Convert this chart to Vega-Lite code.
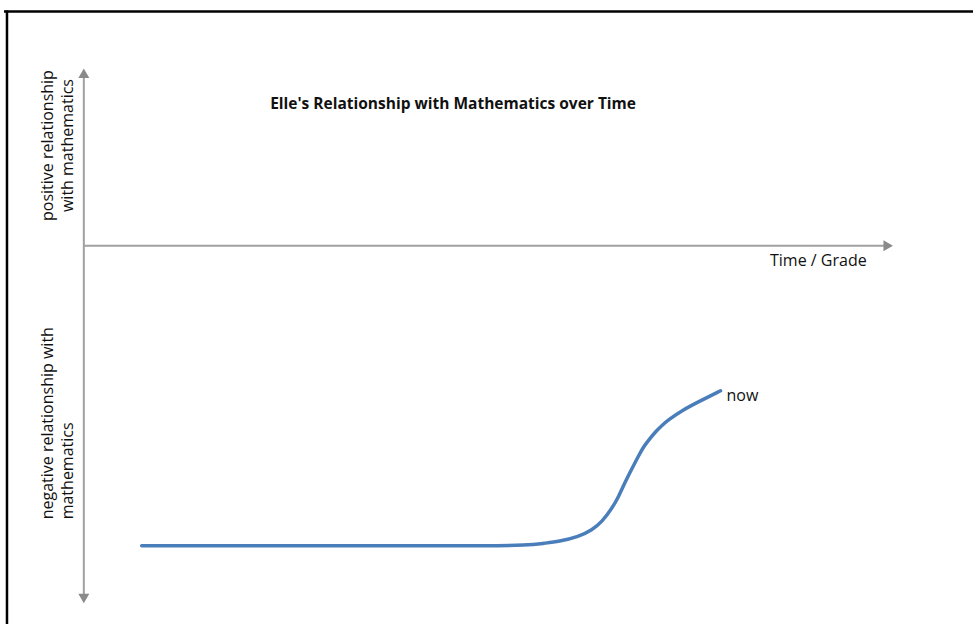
{
  "$schema": "https://vega.github.io/schema/vega-lite/v6.json",
  "width": 975,
  "height": 626,
  "padding": 0,
  "autosize": {"type": "fit", "contains": "padding"},
  "background": "white",
  "config": {"view": {"stroke": null}},
  "datasets": {
    "curve": [
      {"grade": 5.8, "relation": -30.1},
      {"grade": 21.6, "relation": -30.1},
      {"grade": 35.6, "relation": -30.1},
      {"grade": 39.6, "relation": -30.12},
      {"grade": 44.6, "relation": -30.05},
      {"grade": 46.1, "relation": -29.85},
      {"grade": 47.6, "relation": -29.68},
      {"grade": 49.6, "relation": -29.18},
      {"grade": 50.93, "relation": -28.52},
      {"grade": 51.93, "relation": -27.68},
      {"grade": 52.93, "relation": -26.35},
      {"grade": 53.6, "relation": -25.15},
      {"grade": 54.27, "relation": -23.65},
      {"grade": 54.93, "relation": -22.35},
      {"grade": 55.6, "relation": -21.05},
      {"grade": 56.1, "relation": -20.15},
      {"grade": 56.6, "relation": -19.5},
      {"grade": 57.27, "relation": -18.68},
      {"grade": 57.9, "relation": -18.05},
      {"grade": 58.6, "relation": -17.45},
      {"grade": 59.9, "relation": -16.55},
      {"grade": 61.6, "relation": -15.65},
      {"grade": 63.8, "relation": -14.55}
    ],
    "axesV": [{"x": 0, "y": 17.0, "y2": -35.1}],
    "axesH": [{"x": 0, "x2": 80.3, "y": 0}],
    "heads": [
      {"x": 0, "y": 17.3, "shape": "triangle-up"},
      {"x": 0, "y": -35.4, "shape": "triangle-down"},
      {"x": 80.6, "y": 0, "shape": "triangle-right"}
    ],
    "frameTop": [{"x": -8.0, "x2": 89.1, "y": 23.5}],
    "frameLeft": [{"x": -7.7, "y": 23.6, "y2": -37.95}],
    "title": [{"x": 37, "y": 14.25, "label": "Elle's Relationship with Mathematics over Time"}],
    "xlabel": [{"x": 73.6, "y": -1.55, "label": "Time / Grade"}],
    "now": [{"x": 64.4, "y": -15.05, "label": "now"}],
    "pos": [{"x": -3.6, "y": 10.05, "label": ["positive relationship", "with mathematics"]}],
    "neg": [{"x": -3.6, "y": -27.45, "label": ["negative relationship with", "mathematics"]}]
  },
  "layer": [
    {
      "data": {"name": "frameTop"},
      "mark": {"type": "rule", "color": "black", "strokeWidth": 2.5},
      "encoding": {
        "x": {"field": "x", "type": "quantitative", "scale": {"domain": [-8.4, 89.1], "nice": false, "zero": false}, "axis": null},
        "x2": {"field": "x2"},
        "y": {"field": "y", "type": "quantitative", "scale": {"domain": [-37.95, 24.65], "nice": false, "zero": false}, "axis": null}
      }
    },
    {
      "data": {"name": "frameLeft"},
      "mark": {"type": "rule", "color": "black", "strokeWidth": 2.5},
      "encoding": {
        "x": {"field": "x", "type": "quantitative"},
        "y": {"field": "y", "type": "quantitative"},
        "y2": {"field": "y2"}
      }
    },
    {
      "data": {"name": "axesV"},
      "mark": {"type": "rule", "color": "#a0a0a0", "strokeWidth": 2},
      "encoding": {
        "x": {"field": "x", "type": "quantitative"},
        "y": {"field": "y", "type": "quantitative"},
        "y2": {"field": "y2"}
      }
    },
    {
      "data": {"name": "axesH"},
      "mark": {"type": "rule", "color": "#a0a0a0", "strokeWidth": 2},
      "encoding": {
        "x": {"field": "x", "type": "quantitative"},
        "x2": {"field": "x2"},
        "y": {"field": "y", "type": "quantitative"}
      }
    },
    {
      "data": {"name": "heads"},
      "mark": {"type": "point", "filled": true, "color": "#8a8a8a", "size": 120, "opacity": 1},
      "encoding": {
        "x": {"field": "x", "type": "quantitative"},
        "y": {"field": "y", "type": "quantitative"},
        "shape": {"field": "shape", "type": "nominal", "scale": null, "legend": null}
      }
    },
    {
      "data": {"name": "curve"},
      "mark": {"type": "line", "color": "#4a7ebb", "strokeWidth": 3.5, "strokeCap": "round", "interpolate": "basis"},
      "encoding": {
        "x": {"field": "grade", "type": "quantitative"},
        "y": {"field": "relation", "type": "quantitative"}
      }
    },
    {
      "data": {"name": "title"},
      "mark": {"type": "text", "font": "Open Sans", "fontSize": 15.5, "fontWeight": "bold", "align": "center", "baseline": "middle", "color": "#111"},
      "encoding": {
        "x": {"field": "x", "type": "quantitative"},
        "y": {"field": "y", "type": "quantitative"},
        "text": {"field": "label"}
      }
    },
    {
      "data": {"name": "xlabel"},
      "mark": {"type": "text", "font": "Open Sans", "fontSize": 16, "align": "center", "baseline": "middle", "color": "#111"},
      "encoding": {
        "x": {"field": "x", "type": "quantitative"},
        "y": {"field": "y", "type": "quantitative"},
        "text": {"field": "label"}
      }
    },
    {
      "data": {"name": "now"},
      "mark": {"type": "text", "font": "Open Sans", "fontSize": 16, "align": "left", "baseline": "middle", "color": "#111"},
      "encoding": {
        "x": {"field": "x", "type": "quantitative"},
        "y": {"field": "y", "type": "quantitative"},
        "text": {"field": "label"}
      }
    },
    {
      "data": {"name": "pos"},
      "mark": {"type": "text", "font": "Open Sans", "fontSize": 16, "align": "center", "baseline": "middle", "angle": 270, "lineHeight": 20, "color": "#111"},
      "encoding": {
        "x": {"field": "x", "type": "quantitative"},
        "y": {"field": "y", "type": "quantitative"},
        "text": {"field": "label"}
      }
    },
    {
      "data": {"name": "neg"},
      "mark": {"type": "text", "font": "Open Sans", "fontSize": 16, "align": "left", "baseline": "middle", "angle": 270, "lineHeight": 20, "color": "#111"},
      "encoding": {
        "x": {"field": "x", "type": "quantitative"},
        "y": {"field": "y", "type": "quantitative"},
        "text": {"field": "label"}
      }
    }
  ]
}
